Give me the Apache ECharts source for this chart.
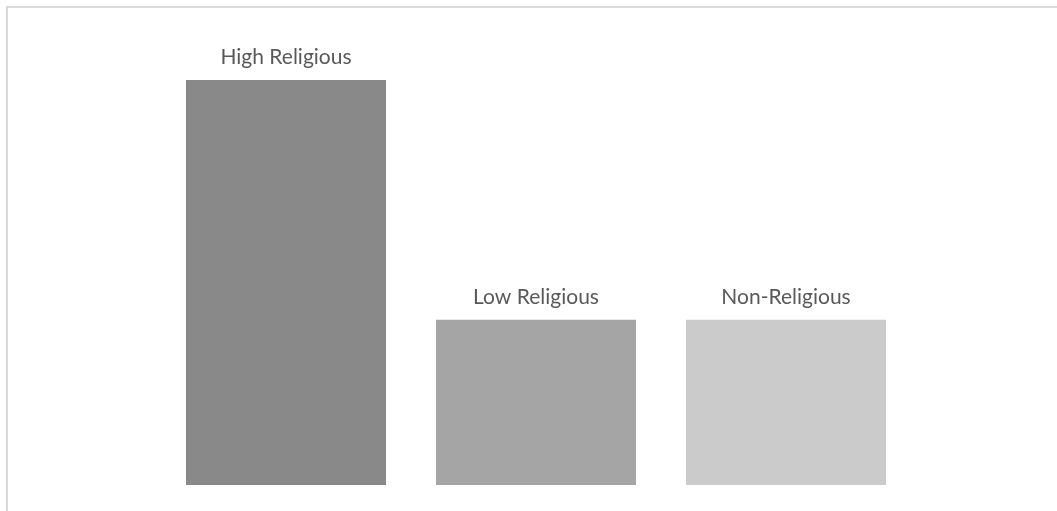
<!DOCTYPE html>
<html>
<head>
<meta charset="utf-8">
<script src="https://cdn.jsdelivr.net/npm/echarts@6/dist/echarts.min.js"></script>
<style>
html,body{margin:0;padding:0;background:#fff;}
#c{width:1057px;height:511px;}
</style>
</head>
<body>
<div id="c"></div>
<script>
const categories = ['High Religious', 'Low Religious', 'Non-Religious'];
const values = [49, 20, 20];
const barColors = ['#898989', '#a5a5a5', '#cbcbcb'];

const chart = echarts.init(document.getElementById('c'), null, {renderer: 'canvas'});
chart.setOption({
  animation: false,
  backgroundColor: '#ffffff',
  graphic: [{
    type: 'rect',
    shape: {x: 7, y: 7, width: 1200, height: 700},
    style: {fill: 'none', stroke: '#d9d9d9', lineWidth: 2},
    silent: true
  }],
  grid: {left: 161, width: 750, top: 80, bottom: 26},
  xAxis: {
    type: 'category',
    data: categories,
    axisLine: {show: false},
    axisTick: {show: false},
    axisLabel: {show: false},
    splitLine: {show: false}
  },
  yAxis: {
    type: 'value',
    min: 0,
    max: 'dataMax',
    show: false,
    splitLine: {show: false}
  },
  series: [{
    type: 'bar',
    data: values.map((v, i) => ({value: v, itemStyle: {color: barColors[i]}})),
    barWidth: 200,
    label: {
      show: true,
      position: 'top',
      distance: 12,
      formatter: '{b}',
      color: '#595959',
      fontFamily: 'Lato, sans-serif',
      fontSize: 21
    }
  }]
});
</script>
</body>
</html>
